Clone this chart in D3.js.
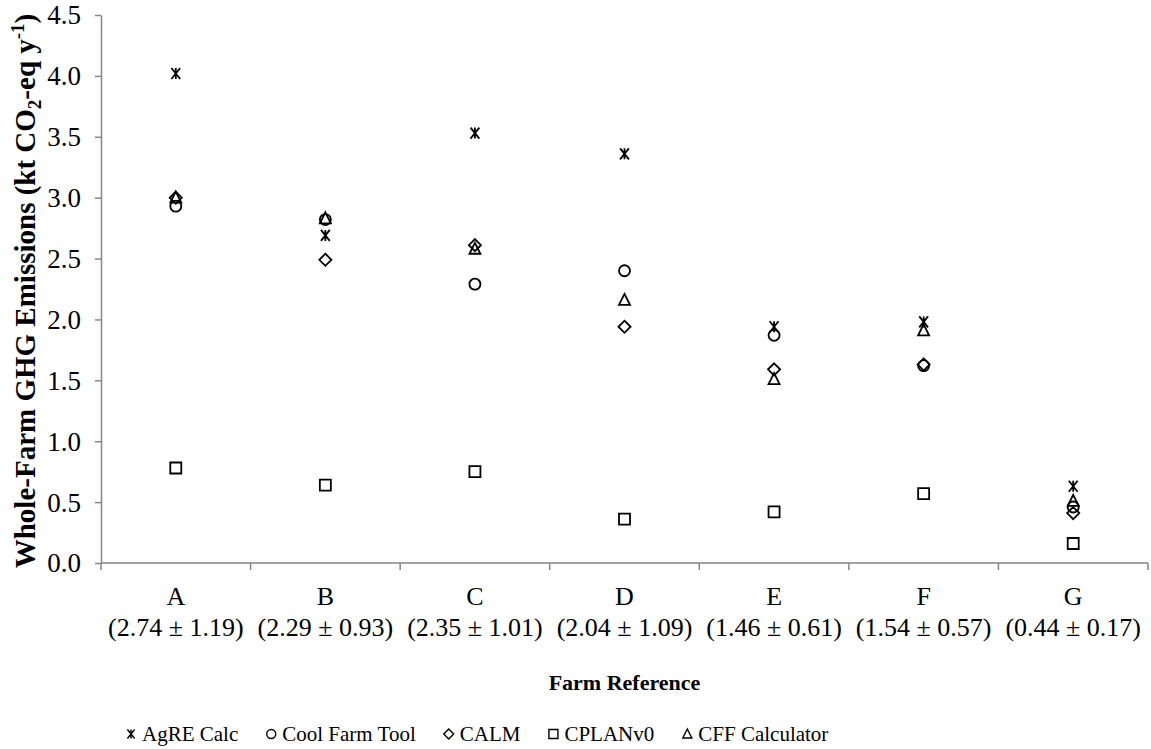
<html>
<head>
<meta charset="utf-8">
<title>Whole-farm GHG emissions</title>
<style type="text/css">
body { margin: 0; background: #fff; }
.mark { fill: none; stroke: #000; stroke-width: 1.8px; }
.axis path, .axis line { stroke: #868686; stroke-width: 1.5px; }
</style>
</head>
<body>
<script src="https://d3js.org/d3.v7.min.js"></script>
<script>
// farms and their mean +/- sd labels
var farms = ["A", "B", "C", "D", "E", "F", "G"];
var farmStats = ["(2.74 \u00b1 1.19)", "(2.29 \u00b1 0.93)", "(2.35 \u00b1 1.01)", "(2.04 \u00b1 1.09)",
                 "(1.46 \u00b1 0.61)", "(1.54 \u00b1 0.57)", "(0.44 \u00b1 0.17)"];

// emissions per tool, kt CO2-eq / y
var agre = [4.02, 2.69, 3.53, 3.36, 1.94, 1.98, 0.63];
var coolFarm = [2.93, 2.82, 2.29, 2.40, 1.87, 1.62, 0.46];
var calm = [3.00, 2.49, 2.61, 1.94, 1.59, 1.63, 0.41];
var cplan = [0.78, 0.64, 0.75, 0.36, 0.42, 0.57, 0.16];
var cff = [3.00, 2.83, 2.58, 2.16, 1.51, 1.91, 0.51];

var yTicks = [0, 0.5, 1, 1.5, 2, 2.5, 3, 3.5, 4, 4.5];

var series = [
  {name: "AgRE Calc", shape: "star", vals: agre},
  {name: "Cool Farm Tool", shape: "circle", vals: coolFarm},
  {name: "CALM", shape: "diamond", vals: calm},
  {name: "CPLANv0", shape: "square", vals: cplan},
  {name: "CFF Calculator", shape: "triangle", vals: cff}
];

var FONT = "Liberation Serif";
var W = 1151, H = 749;
var m = {top: 15, left: 101, right: 3, bottom: 186};
var w = W - m.left - m.right, h = H - m.top - m.bottom;

var svg = d3.select("body").append("svg")
    .attr("width", W)
    .attr("height", H)
    .attr("font-family", FONT);

var g = svg.append("g")
    .attr("transform", "translate(" + m.left + "," + m.top + ")");

var x = d3.scaleBand().domain(farms).range([0, w]);
var y = d3.scaleLinear().domain([0, 4.5]).range([h, 0]);

// y axis
var yAx = g.append("g").attr("class", "axis")
    .call(d3.axisLeft(y).tickValues(yTicks).tickFormat(d3.format(".1f")).tickSize(6).tickSizeOuter(0));
yAx.attr("font-family", FONT).attr("font-size", 27);
yAx.selectAll("text").attr("fill", "#000").attr("x", -20).attr("dy", "0.33em");

// x axis: ticks at category boundaries
var xAx = g.append("g").attr("class", "axis").attr("transform", "translate(0," + h + ")");
xAx.append("line").attr("x1", 0).attr("x2", w).attr("y1", 0).attr("y2", 0);
var bounds = farms.map(function(f) { return x(f); }).concat([w]);
xAx.selectAll(".tk").data(bounds).enter().append("line")
    .attr("x1", function(d) { return d; }).attr("x2", function(d) { return d; })
    .attr("y1", 0).attr("y2", 7);
var lbl = xAx.selectAll(".lbl").data(farms).enter().append("text")
    .attr("text-anchor", "middle").attr("font-size", 26);
lbl.append("tspan").attr("x", function(d) { return x(d) + x.bandwidth() / 2; })
    .attr("y", 42).text(function(d) { return d; });
lbl.append("tspan").attr("x", function(d) { return x(d) + x.bandwidth() / 2; })
    .attr("y", 73).text(function(d, i) { return farmStats[i]; });

// axis titles
svg.append("text").attr("x", m.left + w / 2).attr("y", 690)
    .attr("text-anchor", "middle").attr("font-size", 22).attr("font-weight", "bold")
    .text("Farm Reference");

var yt = svg.append("text")
    .attr("transform", "translate(35," + (m.top + h / 2 + 2) + ") rotate(-90)")
    .attr("text-anchor", "middle").attr("font-size", 29).attr("font-weight", "bold");
yt.append("tspan").text("Whole-Farm GHG Emissions (kt CO");
yt.append("tspan").attr("font-size", 19).attr("dy", 6).text("2");
yt.append("tspan").attr("dy", -6).text("-eq y");
yt.append("tspan").attr("font-size", 19).attr("dy", -11).text("-1");
yt.append("tspan").attr("dy", 11).text(")");

// marker paths
function marker(shape, s) {
  var r = s / 2;
  if (shape === "star") {
    return "M" + (-r * 0.8) + "," + (-r) + "L" + (r * 0.8) + "," + r +
           "M" + (r * 0.8) + "," + (-r) + "L" + (-r * 0.8) + "," + r +
           "M0," + (-r) + "L0," + r;
  }
  if (shape === "circle") {
    return d3.arc()({innerRadius: 0, outerRadius: r, startAngle: 0, endAngle: 2 * Math.PI});
  }
  if (shape === "diamond") {
    return "M0," + (-r * 1.1) + "L" + (r * 1.1) + ",0L0," + (r * 1.1) + "L" + (-r * 1.1) + ",0Z";
  }
  if (shape === "square") {
    return "M" + (-r) + "," + (-r) + "H" + r + "V" + r + "H" + (-r) + "Z";
  }
  return "M0," + (-r * 1.1) + "L" + (r * 1.0) + "," + (r * 0.9) + "L" + (-r * 1.0) + "," + (r * 0.9) + "Z";
}

series.forEach(function(s) {
  g.selectAll(null).data(s.vals).enter().append("path")
    .attr("class", "mark")
    .attr("d", marker(s.shape, 11))
    .attr("transform", function(d, i) {
      return "translate(" + (x(farms[i]) + x.bandwidth() / 2) + "," + y(d) + ")";
    });
});

// legend: entries laid out one after another with an even gap
var leg = svg.append("g").attr("transform", "translate(0,741)");
var cx = 131;
series.forEach(function(s) {
  leg.append("path").attr("class", "mark").style("stroke-width", "1.4px")
    .attr("d", marker(s.shape, 9))
    .attr("transform", "translate(" + cx + ",-7)");
  var t = leg.append("text").attr("font-size", 21)
    .attr("x", cx + 11).attr("y", 0)
    .text(s.name);
  cx = cx + 11 + t.node().getComputedTextLength() + 33;
});
</script>
</body>
</html>
